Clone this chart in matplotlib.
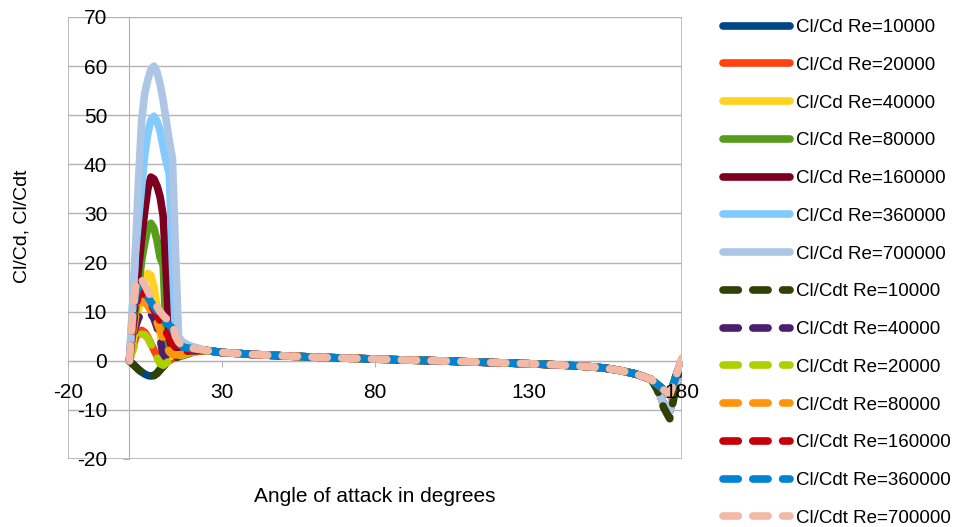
"""
Cl/Cd and Cl/Cdt versus angle of attack for several Reynolds numbers
"""
import matplotlib
matplotlib.use("Agg")
import matplotlib.pyplot as plt
from matplotlib.patches import Rectangle

# angle grid: fine steps around stall, then coarse to 180
head_aoa = [0, 1, 2, 3, 4, 5, 6, 7, 8, 9, 10, 11, 12, 13, 14, 15, 16, 17, 18, 20]
tail_aoa = [25, 30, 40, 50, 60, 70, 80, 90, 100, 110, 120, 130, 140, 150, 155, 160, 165, 170]
end_aoa = [172, 174, 176, 178, 180]

# Cl/Cd, 0..20 deg
cd_10000 = [0, -0.6, -1.2, -1.8, -2.3, -2.7, -3.0, -3.1, -3.0, -2.5, -1.7, -1.0, -0.4, 0.1, 0.5, 0.8, 1.0, 1.2, 1.4, 1.8]
cd_20000 = [0, 2.6, 4.7, 5.9, 6.2, 5.8, 4.8, 3.5, 2.2, 1.0, 0.1, -0.4, -0.3, 0.1, 0.5, 0.8, 1.0, 1.2, 1.4, 1.8]
cd_40000 = [0, 3.5, 7.0, 10.5, 13.8, 16.5, 17.8, 17.4, 15.0, 11.0, 5.5, 1.5, 0.8, 0.9, 1.0, 1.1, 1.2, 1.3, 1.5, 1.9]
cd_80000 = [0, 5.0, 10.0, 15.0, 20.5, 24.0, 27.0, 28.0, 27.0, 24.5, 21.0, 19.5, 5.0, 2.2, 1.6, 1.5, 1.5, 1.5, 1.6, 2.0]
cd_160000 = [0, 6.5, 13.0, 19.0, 25.0, 30.5, 35.0, 37.4, 37.0, 35.6, 33.4, 29.5, 18.0, 4.5, 2.4, 2.0, 1.9, 1.9, 2.0, 2.2]
cd_360000 = [0, 11.0, 22.0, 29.0, 35.5, 42.0, 46.3, 49.0, 49.8, 48.8, 46.8, 43.5, 40.5, 38.0, 20.0, 5.5, 4.0, 3.3, 3.0, 2.7]
cd_700000 = [0, 10.0, 23.0, 37.0, 49.0, 54.5, 57.2, 59.3, 60.0, 58.8, 56.3, 53.0, 48.8, 44.7, 41.3, 22.5, 5.0, 4.0, 3.6, 3.0]

# Cl/Cdt, 0..20 deg
cdt_10000 = [0, -0.6, -1.2, -1.8, -2.3, -2.7, -3.0, -3.1, -3.0, -2.6, -1.9, -1.2, -0.6, -0.1, 0.3, 0.6, 0.8, 1.0, 1.2, 1.6]
cdt_40000 = [0, 4.0, 7.0, 8.8, 9.4, 9.7, 9.8, 9.6, 8.6, 6.8, 4.5, 1.2, 0.8, 0.8, 1.0, 1.1, 1.2, 1.3, 1.5, 1.9]
cdt_20000 = [0, 2.0, 3.8, 4.9, 5.4, 5.3, 4.6, 3.4, 2.0, 0.6, -0.6, -0.9, -0.5, 0.0, 0.4, 0.7, 0.9, 1.1, 1.3, 1.7]
cdt_80000 = [0, 5.0, 9.0, 11.3, 12.2, 12.0, 11.2, 10.2, 9.1, 7.8, 6.2, 4.5, 3.0, 1.8, 1.3, 1.2, 1.2, 1.3, 1.4, 1.8]
cdt_160000 = [0, 6.0, 11.0, 13.5, 14.0, 13.5, 12.6, 11.5, 10.4, 9.3, 8.2, 7.0, 5.8, 4.7, 3.6, 2.8, 2.3, 2.0, 1.9, 2.0]
cdt_360000 = [0, 8.0, 13.5, 15.0, 14.6, 13.8, 12.9, 12.0, 11.0, 10.1, 9.2, 8.5, 7.8, 7.2, 6.6, 5.0, 3.5, 3.0, 2.7, 2.5]
cdt_700000 = [0, 9.0, 15.0, 17.0, 16.5, 15.5, 14.2, 13.0, 12.0, 11.0, 10.0, 9.2, 8.6, 8.2, 7.8, 5.0, 3.8, 3.2, 2.9, 2.6]

# post-stall part, all curves lie on top of each other here
tail_ratio = [2.1, 1.7, 1.3, 1.0, 0.75, 0.55, 0.35, 0.15, 0.0, -0.2, -0.4, -0.6, -0.85, -1.2, -1.5, -2.0, -2.7, -3.8]
end_cd = [-5.5, -8.8, -10.2, -5.0, 0.0]
end_cdt = [-4.8, -5.9, -6.9, -3.2, 0.5]
end_cdt_10000 = [-6.0, -9.5, -11.8, -5.5, -0.3]

solid_series = [
    ("Cl/Cd Re=10000", cd_10000, "#004586"),
    ("Cl/Cd Re=20000", cd_20000, "#ff420e"),
    ("Cl/Cd Re=40000", cd_40000, "#ffd320"),
    ("Cl/Cd Re=80000", cd_80000, "#579d1c"),
    ("Cl/Cd Re=160000", cd_160000, "#7e0021"),
    ("Cl/Cd Re=360000", cd_360000, "#83caff"),
    ("Cl/Cd Re=700000", cd_700000, "#adc6e5"),
]
dashed_series = [
    ("Cl/Cdt Re=10000", cdt_10000, "#314004", end_cdt_10000),
    ("Cl/Cdt Re=40000", cdt_40000, "#4b1f6f", end_cdt),
    ("Cl/Cdt Re=20000", cdt_20000, "#aecf00", end_cdt),
    ("Cl/Cdt Re=80000", cdt_80000, "#ff950e", end_cdt),
    ("Cl/Cdt Re=160000", cdt_160000, "#c5000b", end_cdt),
    ("Cl/Cdt Re=360000", cdt_360000, "#0084d1", end_cdt),
    ("Cl/Cdt Re=700000", cdt_700000, "#f2b9a6", end_cdt),
]

GRID = "#b3b3b3"
LW = 5.5


def main() -> None:
    plt.rcParams["font.family"] = ["Liberation Sans", "DejaVu Sans"]
    plt.rcParams["axes.unicode_minus"] = False
    fig = plt.figure(figsize=(9.71, 5.27), dpi=100)
    ax = fig.add_axes([68 / 971, 1 - 459 / 527, 614 / 971, 442 / 527])
    ax.set_axisbelow(False)  # tick labels sit on top of the curves

    aoa = head_aoa + tail_aoa + end_aoa
    for label, head, color in solid_series:
        ax.plot(aoa, head + tail_ratio + end_cd, color=color, lw=LW,
                solid_capstyle="round", solid_joinstyle="round", label=label)
    for label, head, color, end in dashed_series:
        ax.plot(aoa, head + tail_ratio + end, color=color, lw=LW,
                dashes=(2.0, 1.9), dash_capstyle="round", dash_joinstyle="round",
                label=label)

    ax.set_xlim(-20, 180)
    ax.set_ylim(-20, 70)
    ax.set_xticks([-20, 30, 80, 130, 180])
    ax.set_yticks(range(-20, 71, 10))
    for y in range(-20, 71, 10):
        ax.axhline(y, color=GRID, lw=1, zorder=0.5)
    ax.add_patch(Rectangle((0, 0), 1, 1, transform=ax.transAxes, fill=False,
                           edgecolor=GRID, lw=1.2, zorder=0.5))

    # axes cross at the origin
    for side in ("top", "right"):
        ax.spines[side].set_visible(False)
    ax.spines["left"].set_position(("data", 0))
    ax.spines["bottom"].set_position(("data", 0))
    for side in ("left", "bottom"):
        ax.spines[side].set_color(GRID)
        ax.spines[side].set_zorder(0.6)
    ax.tick_params(axis="x", direction="out", length=4, color=GRID, pad=12, labelsize=15)
    ax.tick_params(axis="y", direction="out", length=4, color=GRID, pad=12, labelsize=15)

    fig.text(375 / 971, 1 - 497 / 527, "Angle of attack in degrees",
             ha="center", va="center", fontsize=15)
    fig.text(22 / 971, 1 - 226 / 527, "Cl/Cd, Cl/Cdt", rotation=90,
             ha="center", va="center", fontsize=14)

    fig.legend(loc="upper left", bbox_to_anchor=(723 / 971, 1 - 19 / 527),
               frameon=False, fontsize=13.5, handlelength=3.55, handletextpad=0.32,
               labelspacing=1.1, borderpad=0, borderaxespad=0)

    fig.savefig("out.png", dpi=100)
    plt.close(fig)


if __name__ == "__main__":
    main()
